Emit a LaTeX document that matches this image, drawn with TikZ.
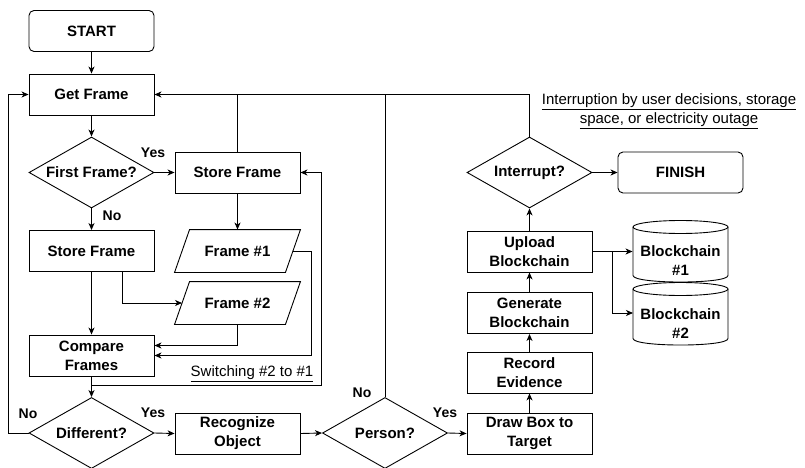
\documentclass[tikz,border=0pt]{standalone}
\usepackage{fontspec}
\setmainfont{Liberation Sans}
\usetikzlibrary{shapes.geometric,arrows.meta}
\begin{document}
\begin{tikzpicture}[x=1pt,y=-1pt,line width=0.9pt,
 base/.style={font=\fontsize{15}{19}\selectfont\bfseries, align=center, inner sep=0pt},
 proc/.style={base, draw, minimum width=125pt, minimum height=41pt},
 term/.style={proc, rounded corners=5pt},
 dia/.style={draw, diamond, minimum width=125pt, minimum height=71pt, inner sep=0pt},
 io/.style={base, minimum width=125pt, minimum height=42pt},
 db/.style={base, minimum width=95pt, minimum height=42pt},
 lbl/.style={font=\fontsize{14}{17}\selectfont\bfseries, inner sep=0pt},
 note/.style={font=\fontsize{15}{19}\selectfont, align=center, inner sep=0pt},
 arr/.style={-{Stealth[length=7pt,width=6pt,inset=2pt]}}]
\useasboundingbox (0,0) rectangle (805,468);
% nodes
\node[term] (start) at (91.5,31) {START};
\node[proc] (gf) at (91.5,94.5) {Get Frame};
\node[dia, label={[base]center:First Frame?}] (ff) at (91.5,172.5) {};
\node[proc] (sf1) at (237.5,172.5) {Store Frame};
\node[proc] (sf2) at (91.5,251) {Store Frame};
\node[io] (f1) at (237.5,251) {Frame \#1};
\node[io] (f2) at (237.5,303) {Frame \#2};
\draw ([xshift=15pt]f1.north west) -- (f1.north east) -- ([xshift=-15pt]f1.south east) -- (f1.south west) -- cycle;
\draw ([xshift=15pt]f2.north west) -- (f2.north east) -- ([xshift=-15pt]f2.south east) -- (f2.south west) -- cycle;
\node[proc] (cmp) at (91.5,355.5) {Compare\\Frames};
\node[dia, label={[base]center:Different?}] (diff) at (91.5,433) {};
\node[proc] (rec) at (237.5,433.5) {Recognize\\Object};
\node[dia, label={[base]center:Person?}] (pers) at (385,433) {};
\node[proc] (dbox) at (529.5,433.5) {Draw Box to\\Target};
\node[proc] (recev) at (529.5,372.5) {Record\\Evidence};
\node[proc] (gen) at (529.5,313) {Generate\\Blockchain};
\node[proc] (up) at (529.5,251.5) {Upload\\Blockchain};
\node[dia, label={[base]center:Interrupt?}] (intr) at (529.5,172.5) {};
\node[term] (fin) at (680.5,172.5) {FINISH};
% cylinders
\draw (633,227) -- (633,275.5) .. controls (633,284.2) and (728,284.2) .. (728,275.5) -- (728,227);
\draw (680.5,227) ellipse[x radius=47.5pt, y radius=6.5pt];
\draw (633,289) -- (633,338.5) .. controls (633,347.2) and (728,347.2) .. (728,338.5) -- (728,289);
\draw (680.5,289) ellipse[x radius=47.5pt, y radius=6.5pt];
\node[db] (bc1) at (680.5,261) {Blockchain\\\#1};
\node[db] (bc2) at (680.5,324) {Blockchain\\\#2};
% labels
\node[lbl] at (153,153) {Yes};
\node[lbl] at (112,216) {No};
\node[lbl] at (28,414) {No};
\node[lbl] at (153,413) {Yes};
\node[lbl] at (362,393) {No};
\node[lbl] at (445,413) {Yes};
\node[note] at (252,374) {\underline{Switching \#2 to \#1}};
\node[note] at (669,111.5) {\underline{Interruption by user decisions, storage}\\\underline{space, or electricity outage}};
% connectors
\draw[arr] (start) -- (gf);
\draw[arr] (gf) -- (ff);
\draw[arr] (ff.east) -- (sf1.west);
\draw[arr] (ff.south) -- (sf2.north);
\draw[arr] (sf1) -- (f1.north);
\draw[arr] (sf2.south) -- (cmp.north);
\draw[arr] ([xshift=31pt]sf2.south) |- ([xshift=7.5pt]f2.west);
\draw[arr] (f2.south) |- ([yshift=10pt]cmp.east);
\coordinate (k1) at (311,355.5);
\draw[arr] ([xshift=-7.5pt]f1.east) -| (k1) -- (cmp.east);
\draw[arr] (cmp) -- (diff);
\coordinate (sw) at (91.5,385);
\coordinate (swr) at (321,385);
\draw[arr] (sw) -- (swr) |- (sf1.east);
\coordinate (lft) at (8,433);
\draw[arr] (diff.west) -- (lft) |- (gf.west);
\draw[arr] (diff.east) -- (rec.west);
\draw[arr] (rec.east) -- (pers.west);
\draw[arr] (pers.east) -- (dbox.west);
\draw (pers.north) -- (pers.north |- gf.east);
\draw (sf1.north) -- (sf1.north |- gf.east);
\draw[arr] (intr.north) |- (gf.east);
\draw[arr] (dbox) -- (recev);
\draw[arr] (recev) -- (gen);
\draw[arr] (gen) -- (up);
\draw[arr] (up) -- (intr);
\draw[arr] (intr.east) -- (fin.west);
\coordinate (j) at (612,251.5);
\coordinate (j2) at (633,313);
\draw (up.east) -- (j);
\draw[arr] (j) -- (j -| bc1.west);
\draw[arr] (j) |- (j2);
\end{tikzpicture}
\end{document}
